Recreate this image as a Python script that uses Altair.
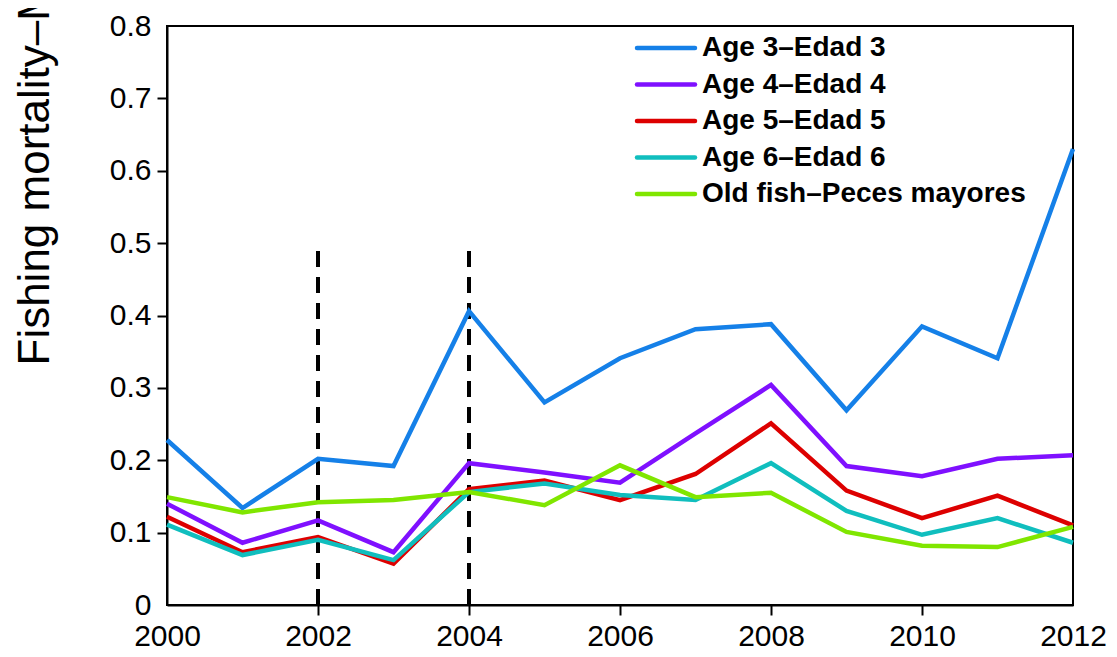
import altair as alt
import pandas as pd

years = list(range(2000, 2013))
series_names = ["Age 3–Edad 3", "Age 4–Edad 4", "Age 5–Edad 5",
                "Age 6–Edad 6", "Old fish–Peces mayores"]
series_colors = ["#1580e8", "#7f10ff", "#dd0000", "#10bebe", "#80e600"]

age3 = [0.228, 0.134, 0.202, 0.192, 0.406, 0.280, 0.341, 0.381, 0.388, 0.269, 0.385, 0.341, 0.630]
age4 = [0.140, 0.086, 0.117, 0.073, 0.196, 0.183, 0.169, 0.237, 0.304, 0.192, 0.178, 0.202, 0.207]
age5 = [0.122, 0.073, 0.094, 0.057, 0.160, 0.172, 0.145, 0.181, 0.251, 0.158, 0.120, 0.151, 0.110]
age6 = [0.111, 0.069, 0.090, 0.062, 0.156, 0.168, 0.152, 0.145, 0.196, 0.130, 0.097, 0.120, 0.086]
old_fish = [0.149, 0.128, 0.142, 0.145, 0.156, 0.138, 0.193, 0.149, 0.155, 0.101, 0.082, 0.080, 0.108]

marker_years = [2002, 2004]
marker_top = [0.5, 0.5]

x_ticks = [2000, 2002, 2004, 2006, 2008, 2010, 2012]
y_ticks = [0, 0.1, 0.2, 0.3, 0.4, 0.5, 0.6, 0.7, 0.8]

rows = []
for name, vals in zip(series_names, [age3, age4, age5, age6, old_fish]):
    for yr, v in zip(years, vals):
        rows.append({"year": yr, "F": v, "series": name})
df = pd.DataFrame(rows)

marker_df = pd.DataFrame({"year": marker_years, "y0": [0, 0], "y1": marker_top})
legend_df = pd.DataFrame({"series": series_names})

FONT = "Liberation Sans"

x_scale = alt.Scale(domain=[2000, 2012], nice=False, zero=False)
y_scale = alt.Scale(domain=[0, 0.8], nice=False)
color_scale = alt.Scale(domain=series_names, range=series_colors)

x_axis = alt.Axis(values=x_ticks, format="d", title=None, labelFlush=False,
                  tickOpacity={"condition": {"test": "datum.value <= 2000 || datum.value >= 2012", "value": 0}, "value": 1},
                  labelPadding=6)
y_axis = alt.Axis(values=y_ticks, format=".1~f", labelFlush=False,
                  tickOpacity={"condition": {"test": "datum.value <= 0 || datum.value >= 0.79", "value": 0}, "value": 1},
                  labelPadding=6,
                  title="Fishing mortality–Mortalidad por pesca",
                  titleFontSize=44, titleFont=FONT, titleFontWeight="normal",
                  titleColor="black", titleAngle=270, titleAlign="left",
                  titleBaseline="alphabetic", titleX=-119, titleY=339)

lines = alt.Chart(df).mark_line(strokeWidth=4.5).encode(
    x=alt.X("year:Q", scale=x_scale, axis=x_axis),
    y=alt.Y("F:Q", scale=y_scale, axis=y_axis),
    color=alt.Color("series:N", scale=color_scale, legend=None),
    order=alt.Order("year:Q"),
)

markers = alt.Chart(marker_df).mark_rule(color="black", strokeWidth=4, strokeDash=[16, 10]).encode(
    x=alt.X("year:Q", scale=x_scale),
    y=alt.Y("y0:Q", scale=y_scale),
    y2="y1:Q",
)

leg_scale = alt.Scale(type="point", domain=series_names, range=[22, 168], padding=0)

legend_lines = alt.Chart(legend_df).mark_rule(strokeWidth=4.5, strokeCap="round").encode(
    x=alt.value(470), x2=alt.value(528),
    y=alt.Y("series:N", scale=leg_scale, axis=None),
    color=alt.Color("series:N", scale=color_scale, legend=None),
)
legend_text = alt.Chart(legend_df).mark_text(
    align="left", baseline="middle", fontSize=28, fontWeight="bold", font=FONT, color="black"
).encode(
    x=alt.value(535),
    y=alt.Y("series:N", scale=leg_scale, axis=None),
    text="series:N",
)

data_layer = alt.layer(markers, lines)
legend_layer = alt.layer(legend_lines, legend_text)

chart = alt.layer(data_layer, legend_layer).resolve_scale(y="independent").properties(
    width=906, height=579,
    autosize=alt.AutoSizeParams(type="none"),
    padding={"left": 159, "top": 18, "right": 36, "bottom": 48},
    background="white",
).configure_view(
    stroke="black", strokeWidth=2
).configure_axis(
    grid=False, domainColor="black", domainWidth=2, tickColor="black", tickWidth=2,
    tickSize=10, labelFont=FONT, labelFontSize=30, labelColor="black",
)

chart.save("out.html", embed_options={"renderer": "svg", "actions": False})
